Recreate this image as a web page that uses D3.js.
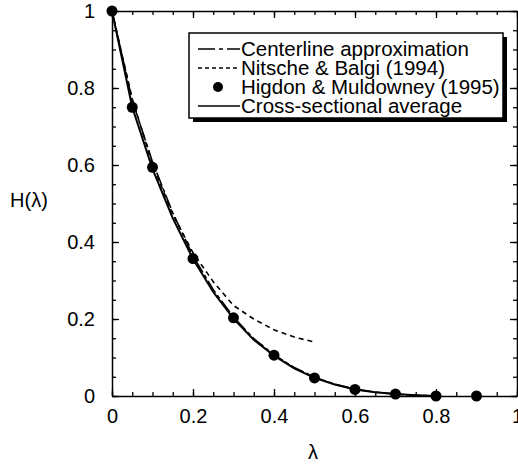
<!DOCTYPE html>
<html>
<head>
<meta charset="utf-8">
<script src="https://cdn.jsdelivr.net/npm/d3@7"></script>
<style>
  body { margin: 0; background: #fff; }
  svg { display: block; font-family: "Liberation Sans", Arial, Helvetica, sans-serif; }
</style>
</head>
<body>
<div id="chart"></div>
<script>
// lambda grid for the curves
var lambdaCurve = [0, 0.05, 0.1, 0.15, 0.2, 0.25, 0.3, 0.35, 0.4, 0.45, 0.5, 0.55, 0.6, 0.65, 0.7, 0.75, 0.8];
var crossSectional = [1, 0.75, 0.59, 0.462, 0.356, 0.27, 0.201, 0.146, 0.105, 0.072, 0.047, 0.03, 0.017, 0.01, 0.005, 0.002, 0.0];
var centerline = [1, 0.768, 0.608, 0.476, 0.364, 0.276, 0.205, 0.149, 0.107, 0.074, 0.049, 0.031, 0.018, 0.01, 0.005, 0.002, 0.0];

// Nitsche & Balgi only goes to 0.5
var lambdaNitsche = [0, 0.05, 0.1, 0.15, 0.2, 0.25, 0.3, 0.35, 0.4, 0.45, 0.5];
var nitsche = [1, 0.772, 0.602, 0.472, 0.372, 0.297, 0.235, 0.2, 0.172, 0.153, 0.14];

// Higdon & Muldowney points
var lambdaHigdon = [0, 0.05, 0.1, 0.2, 0.3, 0.4, 0.5, 0.6, 0.7, 0.8, 0.9];
var higdon = [1, 0.75, 0.594, 0.357, 0.203, 0.106, 0.047, 0.017, 0.005, 0.0, 0.0];

var majorTicks = [0, 0.2, 0.4, 0.6, 0.8, 1];
var tickLabels = ["0", "0.2", "0.4", "0.6", "0.8", "1"];
var minorTicks = d3.range(0, 1.001, 0.05);

var legendLabels = ["Centerline approximation", "Nitsche & Balgi (1994)", "Higdon & Muldowney (1995)", "Cross-sectional average"];

var width = 518, height = 466;
var plotLeft = 112, plotRight = 517, plotTop = 11, plotBottom = 396;

var svg = d3.select("#chart").append("svg")
    .attr("width", width)
    .attr("height", height);

var x = d3.scaleLinear().domain([0, 1]).range([plotLeft, plotRight]);
var y = d3.scaleLinear().domain([0, 1]).range([plotBottom, plotTop]);

function fmt(d) { return tickLabels[majorTicks.indexOf(d)]; }

// minor ticks (no labels) on all four sides
function minorAxis(axis, tx, ty) {
    svg.append("g")
        .attr("transform", "translate(" + tx + "," + ty + ")")
        .call(axis.tickValues(minorTicks).tickSize(-4).tickSizeOuter(0).tickFormat(""))
        .call(function(g) { g.select(".domain").remove(); })
        .selectAll("line").attr("stroke", "#000").attr("stroke-width", 1.3);
}
minorAxis(d3.axisBottom(x), 0, plotBottom);
minorAxis(d3.axisTop(x), 0, plotTop);
minorAxis(d3.axisLeft(y), plotLeft, 0);
minorAxis(d3.axisRight(y), plotRight, 0);

// major ticks
var xAxis = svg.append("g")
    .attr("transform", "translate(0," + plotBottom + ")")
    .call(d3.axisBottom(x).tickValues(majorTicks).tickSize(-7).tickSizeOuter(0).tickPadding(13).tickFormat(fmt));
var yAxis = svg.append("g")
    .attr("transform", "translate(" + plotLeft + ",0)")
    .call(d3.axisLeft(y).tickValues(majorTicks).tickSize(-7).tickSizeOuter(0).tickPadding(17).tickFormat(fmt));
var xTop = svg.append("g")
    .attr("transform", "translate(0," + plotTop + ")")
    .call(d3.axisTop(x).tickValues(majorTicks).tickSize(-7).tickSizeOuter(0).tickFormat(""));
var yRight = svg.append("g")
    .attr("transform", "translate(" + plotRight + ",0)")
    .call(d3.axisRight(y).tickValues(majorTicks).tickSize(-7).tickSizeOuter(0).tickFormat(""));

[xAxis, yAxis, xTop, yRight].forEach(function(g) {
    g.select(".domain").attr("stroke", "#000").attr("stroke-width", 1.5);
    g.selectAll("line").attr("stroke", "#000").attr("stroke-width", 1.3);
    g.selectAll("text").attr("font-size", "20px").attr("fill", "#000")
        .attr("font-family", "Liberation Sans, Arial, sans-serif");
});

// axis titles
svg.append("text")
    .attr("x", 29).attr("y", 207)
    .attr("text-anchor", "middle")
    .attr("font-size", "20px")
    .text("H(λ)");
svg.append("text")
    .attr("x", 313).attr("y", 459)
    .attr("text-anchor", "middle")
    .attr("font-size", "20px")
    .text("λ");

var line = d3.line()
    .x(function(d) { return x(d[0]); })
    .y(function(d) { return y(d[1]); });

function pairs(xs, ys) { return xs.map(function(v, i) { return [v, ys[i]]; }); }

// Nitsche & Balgi (short dashes)
svg.append("path")
    .attr("d", line(pairs(lambdaNitsche, nitsche)))
    .attr("fill", "none").attr("stroke", "#000")
    .attr("stroke-width", 1.6)
    .attr("stroke-dasharray", "5,4");

// centerline approximation (long dash / short dash)
svg.append("path")
    .attr("d", line(pairs(lambdaCurve, centerline)))
    .attr("fill", "none").attr("stroke", "#000")
    .attr("stroke-width", 1.6)
    .attr("stroke-dasharray", "14,3,4,3");

// cross-sectional average (solid)
svg.append("path")
    .attr("d", line(pairs(lambdaCurve, crossSectional)))
    .attr("fill", "none").attr("stroke", "#000")
    .attr("stroke-width", 2);

// Higdon & Muldowney points
svg.selectAll("circle.pt")
    .data(pairs(lambdaHigdon, higdon))
    .enter().append("circle")
    .attr("class", "pt")
    .attr("cx", function(d) { return x(d[0]); })
    .attr("cy", function(d) { return y(d[1]); })
    .attr("r", 5.5)
    .attr("fill", "#000");

// legend with drop shadow
var lg = svg.append("g");
lg.append("rect")
    .attr("x", 193).attr("y", 37).attr("width", 314).attr("height", 85)
    .attr("fill", "#000");
lg.append("rect")
    .attr("x", 189).attr("y", 33).attr("width", 314).attr("height", 85)
    .attr("fill", "#fff").attr("stroke", "#000").attr("stroke-width", 1.5);

var rowY = [49, 68, 87, 106];
lg.selectAll("text.lab")
    .data(legendLabels)
    .enter().append("text")
    .attr("class", "lab")
    .attr("x", 241)
    .attr("y", function(d, i) { return rowY[i] + 7; })
    .attr("font-size", "20.5px")
    .text(function(d) { return d; });

lg.append("line").attr("x1", 198).attr("x2", 240).attr("y1", rowY[0]).attr("y2", rowY[0])
    .attr("stroke", "#000").attr("stroke-width", 1.5).attr("stroke-dasharray", "17,4,4,4");
lg.append("line").attr("x1", 198).attr("x2", 240).attr("y1", rowY[1]).attr("y2", rowY[1])
    .attr("stroke", "#000").attr("stroke-width", 1.5).attr("stroke-dasharray", "4,3");
lg.append("circle").attr("cx", 218).attr("cy", rowY[2]).attr("r", 5).attr("fill", "#000");
lg.append("line").attr("x1", 198).attr("x2", 240).attr("y1", rowY[3]).attr("y2", rowY[3])
    .attr("stroke", "#000").attr("stroke-width", 1.5);
</script>
</body>
</html>
